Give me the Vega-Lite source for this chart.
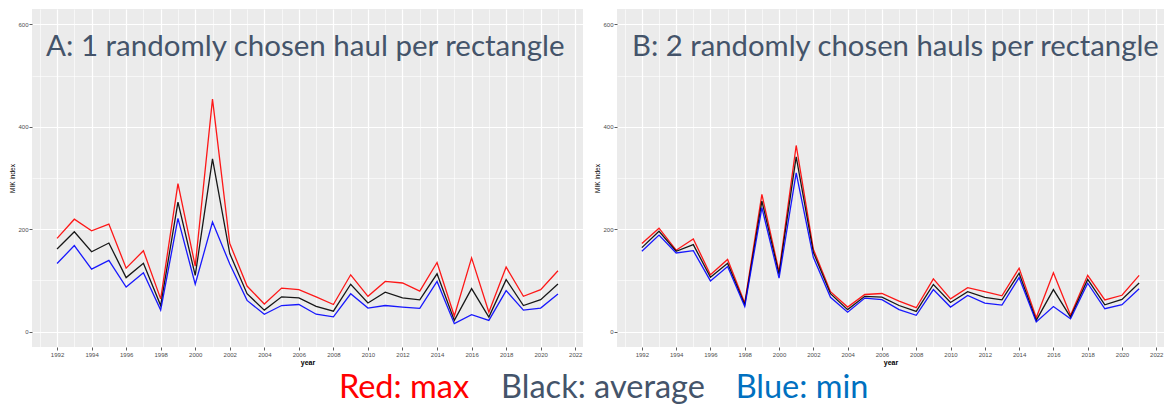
{
  "$schema": "https://vega.github.io/schema/vega-lite/v6.json",
  "padding": {"left": 9, "top": 9, "right": 2, "bottom": 0},
  "background": "white",
  "config": {"view": {"stroke": null}, "font": "Liberation Sans"},
  "datasets": {
    "mik": [
      {"panel": "A", "year": 1992, "max": 182, "average": 161.5, "min": 133},
      {"panel": "A", "year": 1993, "max": 219.5, "average": 195, "min": 168},
      {"panel": "A", "year": 1994, "max": 197, "average": 156, "min": 122},
      {"panel": "A", "year": 1995, "max": 210, "average": 173, "min": 139},
      {"panel": "A", "year": 1996, "max": 124, "average": 105.5, "min": 87},
      {"panel": "A", "year": 1997, "max": 158, "average": 133.5, "min": 115},
      {"panel": "A", "year": 1998, "max": 64, "average": 51, "min": 42},
      {"panel": "A", "year": 1999, "max": 289, "average": 253, "min": 221},
      {"panel": "A", "year": 2000, "max": 128, "average": 110, "min": 92.5},
      {"panel": "A", "year": 2001, "max": 454, "average": 337.5, "min": 214},
      {"panel": "A", "year": 2002, "max": 172, "average": 152.5, "min": 132},
      {"panel": "A", "year": 2003, "max": 89, "average": 74, "min": 61},
      {"panel": "A", "year": 2004, "max": 54, "average": 42, "min": 34},
      {"panel": "A", "year": 2005, "max": 85, "average": 68, "min": 51},
      {"panel": "A", "year": 2006, "max": 82, "average": 66, "min": 53},
      {"panel": "A", "year": 2007, "max": 68, "average": 49.5, "min": 34},
      {"panel": "A", "year": 2008, "max": 53, "average": 40, "min": 29},
      {"panel": "A", "year": 2009, "max": 111, "average": 92.5, "min": 74},
      {"panel": "A", "year": 2010, "max": 69, "average": 56, "min": 46},
      {"panel": "A", "year": 2011, "max": 98, "average": 77, "min": 51},
      {"panel": "A", "year": 2012, "max": 95, "average": 66, "min": 48},
      {"panel": "A", "year": 2013, "max": 79, "average": 62, "min": 45.5},
      {"panel": "A", "year": 2014, "max": 135, "average": 113, "min": 98},
      {"panel": "A", "year": 2015, "max": 30.5, "average": 22, "min": 15.6},
      {"panel": "A", "year": 2016, "max": 144, "average": 84, "min": 33},
      {"panel": "A", "year": 2017, "max": 38, "average": 28.5, "min": 22},
      {"panel": "A", "year": 2018, "max": 126, "average": 101.6, "min": 80},
      {"panel": "A", "year": 2019, "max": 69, "average": 51, "min": 42},
      {"panel": "A", "year": 2020, "max": 82, "average": 62.5, "min": 46},
      {"panel": "A", "year": 2021, "max": 119, "average": 93, "min": 73.5},
      {"panel": "B", "year": 1992, "max": 172, "average": 164, "min": 157},
      {"panel": "B", "year": 1993, "max": 202, "average": 196, "min": 188.6},
      {"panel": "B", "year": 1994, "max": 159, "average": 157, "min": 153.6},
      {"panel": "B", "year": 1995, "max": 181, "average": 170, "min": 158},
      {"panel": "B", "year": 1996, "max": 111, "average": 106, "min": 99},
      {"panel": "B", "year": 1997, "max": 141, "average": 133.5, "min": 127},
      {"panel": "B", "year": 1998, "max": 56, "average": 52.5, "min": 49},
      {"panel": "B", "year": 1999, "max": 268, "average": 255, "min": 242},
      {"panel": "B", "year": 2000, "max": 117, "average": 112, "min": 104.5},
      {"panel": "B", "year": 2001, "max": 363.5, "average": 341.5, "min": 310},
      {"panel": "B", "year": 2002, "max": 161, "average": 155, "min": 145},
      {"panel": "B", "year": 2003, "max": 78, "average": 74, "min": 67},
      {"panel": "B", "year": 2004, "max": 48, "average": 43, "min": 38},
      {"panel": "B", "year": 2005, "max": 72.5, "average": 69, "min": 65.5},
      {"panel": "B", "year": 2006, "max": 74.5, "average": 67.5, "min": 62.5},
      {"panel": "B", "year": 2007, "max": 59.6, "average": 51, "min": 43},
      {"panel": "B", "year": 2008, "max": 46.7, "average": 39.5, "min": 32},
      {"panel": "B", "year": 2009, "max": 103, "average": 92, "min": 82},
      {"panel": "B", "year": 2010, "max": 64, "average": 57, "min": 48},
      {"panel": "B", "year": 2011, "max": 86, "average": 78, "min": 70.6},
      {"panel": "B", "year": 2012, "max": 78, "average": 67, "min": 55.7},
      {"panel": "B", "year": 2013, "max": 70, "average": 62, "min": 51.8},
      {"panel": "B", "year": 2014, "max": 124, "average": 114, "min": 105.6},
      {"panel": "B", "year": 2015, "max": 27, "average": 22, "min": 18.8},
      {"panel": "B", "year": 2016, "max": 115, "average": 82, "min": 49},
      {"panel": "B", "year": 2017, "max": 32, "average": 28.5, "min": 25},
      {"panel": "B", "year": 2018, "max": 110, "average": 102, "min": 94.6},
      {"panel": "B", "year": 2019, "max": 62, "average": 52.5, "min": 44.7},
      {"panel": "B", "year": 2020, "max": 71, "average": 63, "min": 52.5},
      {"panel": "B", "year": 2021, "max": 110, "average": 95, "min": 83.6}
    ],
    "caption": [
      {"label": "Red: max"},
      {"label": "Black: average"},
      {"label": "Blue: min"}
    ]
  },
  "spacing": 5,
  "resolve": {"scale": {"color": "independent", "x": "independent"}},
  "vconcat": [
    {
      "spacing": 11,
      "hconcat": [
        {
          "width": 551,
          "height": 338,
          "view": {"fill": "#EBEBEB", "stroke": null},
          "title": {"text": "A: 1 randomly chosen haul per rectangle", "anchor": "start", "frame": "group", "orient": "top", "offset": -47, "baseline": "alphabetic", "dx": 14, "dy": 29, "font": "Lato", "fontSize": 29.5, "fontWeight": "normal", "color": "#44546A"},
          "data": {"name": "mik"},
          "transform": [
            {"filter": "datum.panel === 'A'"},
            {"fold": ["max", "average", "min"], "as": ["stat", "value"]}
          ],
          "mark": {"type": "line", "strokeWidth": 1.3, "opacity": 0.9, "clip": true},
          "encoding": {
            "x": {"field": "year", "type": "quantitative",
              "scale": {"domain": [1990.55, 2022.45], "nice": false, "zero": false},
              "axis": {"title": "year", "values": [1991,1992,1993,1994,1995,1996,1997,1998,1999,2000,2001,2002,2003,2004,2005,2006,2007,2008,2009,2010,2011,2012,2013,2014,2015,2016,2017,2018,2019,2020,2021,2022],
                "format": "d", "labelExpr": "datum.value % 2 === 0 ? datum.label : ''", "labelOverlap": false, "labelFlush": false,
                "grid": true, "gridColor": "#FFFFFF", "gridWidth": {"condition": {"test": "datum.value % 2 === 0", "value": 1.2}, "value": 0.6},
                "domain": false, "tickSize": 3, "tickColor": "#333333", "tickWidth": 0.8,
                "tickOpacity": {"condition": {"test": "datum.value % 2 === 0", "value": 1}, "value": 0},
                "labelFontSize": 6, "labelColor": "#4D4D4D", "labelPadding": 1,
                "titleFontSize": 7, "titleFontWeight": "bold", "titleColor": "#000000", "titlePadding": 1}},
            "y": {"field": "value", "type": "quantitative",
              "scale": {"domain": [-30, 630], "nice": false, "zero": false},
              "axis": {"title": "MIK index", "values": [0, 100, 200, 300, 400, 500, 600],
                "labelExpr": "datum.value % 200 === 0 ? datum.label : ''", "labelOverlap": false, "labelFlush": false,
                "grid": true, "gridColor": "#FFFFFF", "gridWidth": {"condition": {"test": "datum.value % 200 === 0", "value": 1.2}, "value": 0.6},
                "domain": false, "tickSize": 3, "tickColor": "#333333", "tickWidth": 0.8,
                "tickOpacity": {"condition": {"test": "datum.value % 200 === 0", "value": 1}, "value": 0},
                "labelFontSize": 6, "labelColor": "#4D4D4D", "labelPadding": 1,
                "titleFontSize": 6.5, "titleFontWeight": "normal", "titleColor": "#000000", "titlePadding": 2}},
            "color": {"field": "stat", "type": "nominal",
              "scale": {"domain": ["max", "average", "min"], "range": ["#FF0000", "#000000", "#0000FF"]},
              "legend": null}
          }
        },
        {
          "width": 547,
          "height": 338,
          "view": {"fill": "#EBEBEB", "stroke": null},
          "title": {"text": "B: 2 randomly chosen hauls per rectangle", "anchor": "start", "frame": "group", "orient": "top", "offset": -47, "baseline": "alphabetic", "dx": 15, "dy": 29, "font": "Lato", "fontSize": 29.3, "fontWeight": "normal", "color": "#44546A"},
          "data": {"name": "mik"},
          "transform": [
            {"filter": "datum.panel === 'B'"},
            {"fold": ["max", "average", "min"], "as": ["stat", "value"]}
          ],
          "mark": {"type": "line", "strokeWidth": 1.3, "opacity": 0.9, "clip": true},
          "encoding": {
            "x": {"field": "year", "type": "quantitative",
              "scale": {"domain": [1990.55, 2022.45], "nice": false, "zero": false},
              "axis": {"title": "year", "values": [1991,1992,1993,1994,1995,1996,1997,1998,1999,2000,2001,2002,2003,2004,2005,2006,2007,2008,2009,2010,2011,2012,2013,2014,2015,2016,2017,2018,2019,2020,2021,2022],
                "format": "d", "labelExpr": "datum.value % 2 === 0 ? datum.label : ''", "labelOverlap": false, "labelFlush": false,
                "grid": true, "gridColor": "#FFFFFF", "gridWidth": {"condition": {"test": "datum.value % 2 === 0", "value": 1.2}, "value": 0.6},
                "domain": false, "tickSize": 3, "tickColor": "#333333", "tickWidth": 0.8,
                "tickOpacity": {"condition": {"test": "datum.value % 2 === 0", "value": 1}, "value": 0},
                "labelFontSize": 6, "labelColor": "#4D4D4D", "labelPadding": 1,
                "titleFontSize": 7, "titleFontWeight": "bold", "titleColor": "#000000", "titlePadding": 1}},
            "y": {"field": "value", "type": "quantitative",
              "scale": {"domain": [-30, 630], "nice": false, "zero": false},
              "axis": {"title": "MIK index", "values": [0, 100, 200, 300, 400, 500, 600],
                "labelExpr": "datum.value % 200 === 0 ? datum.label : ''", "labelOverlap": false, "labelFlush": false,
                "grid": true, "gridColor": "#FFFFFF", "gridWidth": {"condition": {"test": "datum.value % 200 === 0", "value": 1.2}, "value": 0.6},
                "domain": false, "tickSize": 3, "tickColor": "#333333", "tickWidth": 0.8,
                "tickOpacity": {"condition": {"test": "datum.value % 200 === 0", "value": 1}, "value": 0},
                "labelFontSize": 6, "labelColor": "#4D4D4D", "labelPadding": 1,
                "titleFontSize": 6.5, "titleFontWeight": "normal", "titleColor": "#000000", "titlePadding": 2}},
            "color": {"field": "stat", "type": "nominal",
              "scale": {"domain": ["max", "average", "min"], "range": ["#FF0000", "#000000", "#0000FF"]},
              "legend": null}
          }
        }
      ]
    },
    {
      "width": 1100,
      "height": 30,
      "view": {"stroke": null},
      "data": {"name": "caption"},
      "mark": {"type": "text", "font": "Lato", "fontSize": 32.5, "baseline": "alphabetic", "align": "center", "dy": 13},
      "encoding": {
        "x": {"field": "label", "type": "nominal", "sort": null,
          "scale": {"type": "point", "domain": ["Red: max", "Black: average", "Blue: min"], "range": [372, 770], "padding": 0},
          "axis": null},
        "text": {"field": "label"},
        "color": {"field": "label", "type": "nominal",
          "scale": {"domain": ["Red: max", "Black: average", "Blue: min"], "range": ["#FF0000", "#44546A", "#0070C0"]},
          "legend": null}
      }
    }
  ]
}
